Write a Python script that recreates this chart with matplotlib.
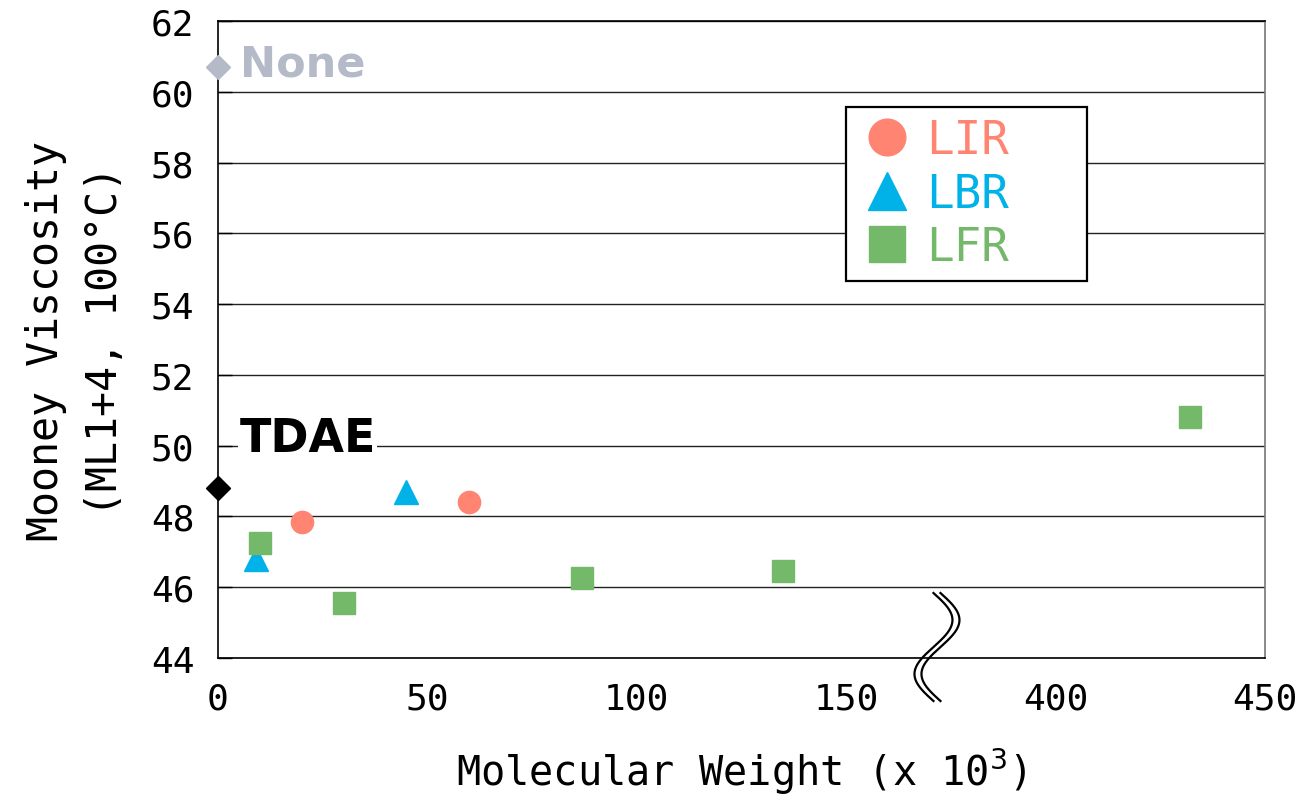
import numpy as np
import matplotlib.pyplot as plt

plt.rcParams['font.family'] = ['DejaVu Sans Mono', 'DejaVu Sans']

# data (molecular weight in x 10^3, Mooney viscosity)
lir_mw = [20, 60]
lir_mv = [47.85, 48.42]
lbr_mw = [9, 45]
lbr_mv = [46.8, 48.7]
lfr_mw = [10, 30, 87, 135, 432]
lfr_mv = [47.25, 45.55, 46.25, 46.45, 50.8]
tdae_mw = [0]
tdae_mv = [48.8]
none_mw = [0]
none_mv = [60.7]

xtick_vals = [0, 50, 100, 150, 400, 450]


def brk(v):
    # broken x axis: 150..400 gap, 400 sits where 200 would be
    v = np.asarray(v, dtype=float)
    return np.where(v > 200, v - 200, v)


c_lir = '#FF8472'
c_lbr = '#00B2E8'
c_lfr = '#74B96A'
c_none = '#B4BAC8'

fig = plt.figure(figsize=(12.99, 8.03), dpi=100)
ax = fig.add_axes([0.1678, 0.1793, 0.806, 0.7933])

ax.set_ylim(44, 62)
ax.set_xlim(0, 250)
ax.set_yticks(np.arange(44, 63, 2))
ax.set_xticks(brk(xtick_vals))
ax.set_xticklabels([str(v) for v in xtick_vals])
ax.yaxis.grid(True, color='#222222', linewidth=1.0)
ax.set_axisbelow(True)
ax.tick_params(axis='y', direction='in', length=10, width=1, pad=17, labelsize=26)
ax.tick_params(axis='x', length=0, pad=17, labelsize=26)
for s in ax.spines.values():
    s.set_linewidth(1.2)
ax.spines['right'].set_color('#777777')

ax.plot(brk(lir_mw), lir_mv, 'o', color=c_lir, ms=16, ls='none', label='LIR', clip_on=False, zorder=3)
ax.plot(brk(lbr_mw), lbr_mv, '^', color=c_lbr, ms=17, ls='none', label='LBR', clip_on=False, zorder=3)
ax.plot(brk(lfr_mw), lfr_mv, 's', color=c_lfr, ms=16, ls='none', label='LFR', clip_on=False, zorder=4)
ax.plot(brk(tdae_mw), tdae_mv, 'D', color='black', ms=12, ls='none', clip_on=False, zorder=5)
ax.plot(brk(none_mw), none_mv, 'D', color=c_none, ms=12, ls='none', clip_on=False, zorder=5)

ax.text(5.2, 60.8, 'None', color=c_none, fontsize=31, fontweight='bold', va='center', ha='left',
        family=['DejaVu Sans', 'DejaVu Sans Mono'])
ax.text(5.2, 50.2, 'TDAE', color='black', fontsize=33, fontweight='bold', va='center', ha='left',
        family=['DejaVu Sans', 'DejaVu Sans Mono'],
        bbox=dict(facecolor='white', edgecolor='none', pad=1), zorder=6)

leg = ax.legend(loc='upper left', bbox_to_anchor=(0.6, 0.865 - 0.273, 0.230, 0.273),
                mode='expand', borderaxespad=0, framealpha=1,
                fontsize=33, frameon=True, fancybox=False, handletextpad=0.2,
                borderpad=0.25, labelspacing=0.18, handlelength=1.3, markerscale=1.65)
leg.get_frame().set_edgecolor('black')
leg.get_frame().set_linewidth(1.6)
for t, c in zip(leg.get_texts(), [c_lir, c_lbr, c_lfr]):
    t.set_color(c)

# break mark on the x axis
W, H = 1047.0, 637.0
t = np.linspace(0, 1, 200)
py = 594 + 108 * t
px = 937 + 19 * np.sin(2 * np.pi * t)
for off in (-3.5, 3.5):
    ax.plot((px + off - 218) / W, (659 - py) / H, color='black', lw=1.6,
            transform=ax.transAxes, clip_on=False, zorder=7)

ax.set_xlabel('Molecular Weight (x 10$^{3}$)', fontsize=29, labelpad=22)
ax.set_ylabel('Mooney Viscosity\n(ML1+4, 100°C)', fontsize=30, labelpad=18, linespacing=1.5)

fig.savefig('out.png', dpi=100)
